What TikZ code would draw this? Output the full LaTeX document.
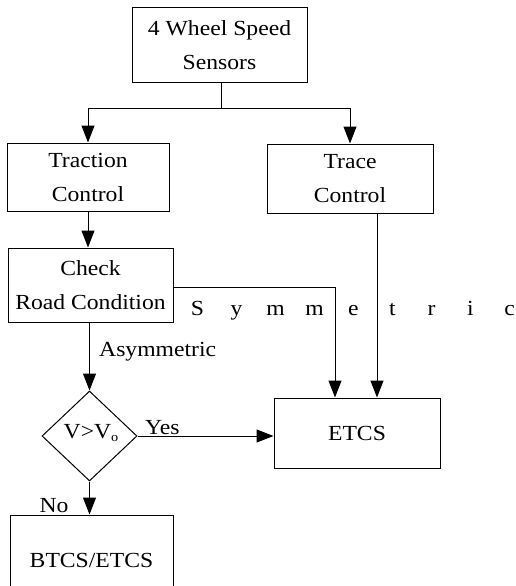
\documentclass[tikz,border=0pt]{standalone}
\usepackage{fontspec}
\setmainfont{Liberation Serif}[FakeStretch=1.1]
\usetikzlibrary{arrows.meta,shapes.geometric,calc}
\begin{document}
\begin{tikzpicture}[x=1pt,y=-1pt,
  every node/.style={font=\fontsize{21.5}{34}\selectfont},
  blk/.style={draw,line width=1pt,rectangle,inner sep=0pt,align=center},
  dec/.style={draw,line width=1pt,diamond,inner sep=0pt,minimum width=95pt,minimum height=90pt},
  con/.style={line width=1pt},
  arr/.style={con,-{Triangle[length=17pt,width=13pt]}},
  lbl/.style={inner sep=0pt}]
\useasboundingbox (0,0) rectangle (516,586);
\node[blk,minimum width=175pt,minimum height=74pt] (top) at (219.5,45) {4 Wheel Speed\\Sensors};
\node[blk,minimum width=162pt,minimum height=68pt] (trac) at (88,177) {Traction\\Control};
\node[blk,minimum width=166pt,minimum height=69pt] (trace) at (350,178.5) {Trace\\Control};
\node[blk,minimum width=165pt,minimum height=74pt] (check) at (90.5,285) {Check\\Road Condition};
\node[dec] (dia) at (89.5,436) {};
\node[lbl] (vtext) at (91,433) {V>V\raisebox{-3pt}{\fontsize{13}{13}\selectfont o}};
\node[blk,minimum width=166pt,minimum height=70pt] (etcs) at (357,433) {ETCS};
\node[blk,minimum width=163pt,minimum height=90pt] (btcs) at (91.5,560) {BTCS/ETCS};
\coordinate (j1) at (221,108);
\draw[con] (top.south -| j1) -- (j1);
\draw[arr] (j1) -| (trac.north);
\draw[arr] (j1) -| (trace.north);
\draw[arr] (trac.south) -- (trac.south |- check.north);
\coordinate (s1) at (335,287);
\draw[arr] (check.east |- s1) -- (s1) -- (s1 |- etcs.north);
\coordinate (t1) at (377,300);
\draw[arr] (t1 |- trace.south) -- (t1 |- etcs.north);
\draw[arr] (check.south -| dia.north) -- (dia.north);
\draw[arr] (dia.east) -- (etcs.west |- dia.east);
\draw[arr] (dia.south) -- (dia.south |- btcs.north);
\node[lbl] (sym) at (353.5,311) {\makebox[39pt]{S}\makebox[39pt]{y}\makebox[39pt]{m}\makebox[39pt]{m}\makebox[39pt]{e}\makebox[39pt]{t}\makebox[39pt]{r}\makebox[39pt]{i}\makebox[39pt]{c}};
\node[lbl,anchor=west] (asym) at (99,352) {Asymmetric};
\node[lbl,anchor=base west] (yes) at (145,434.5) {Yes};
\node[lbl] (no) at (54,506) {No};
\end{tikzpicture}
\end{document}
